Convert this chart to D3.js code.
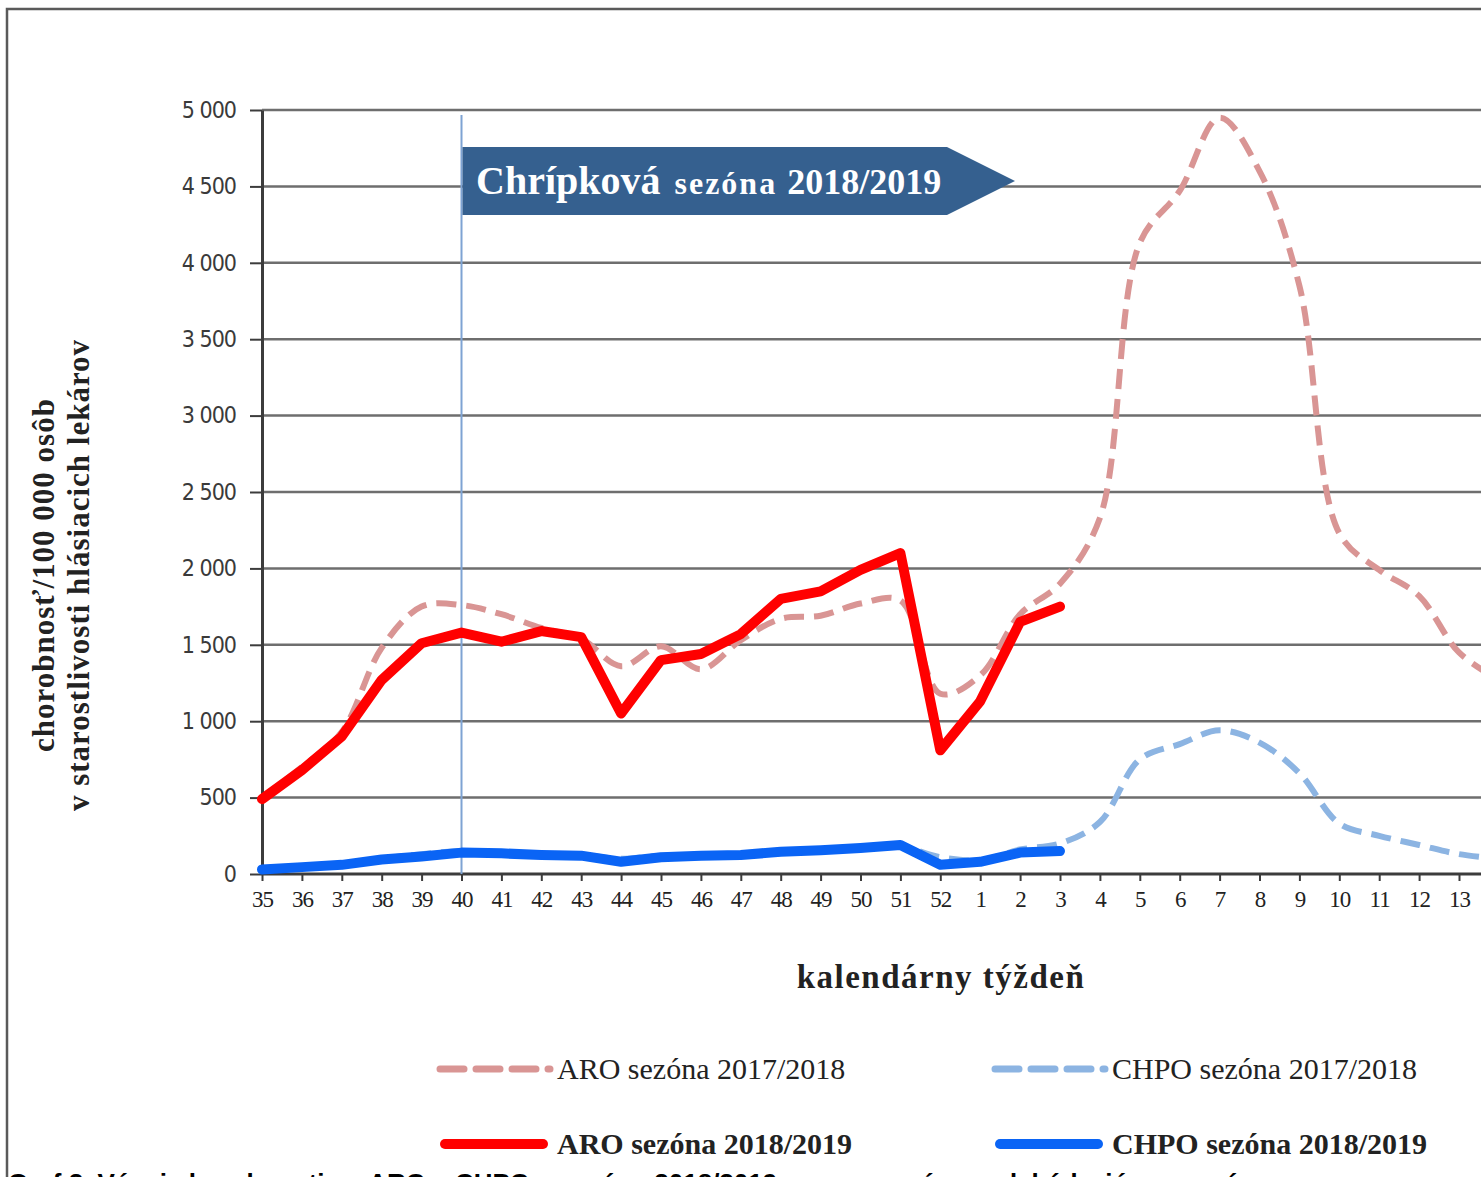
<!DOCTYPE html>
<html>
<head>
<meta charset="utf-8">
<script src="https://cdn.jsdelivr.net/npm/d3@7"></script>
<style>
    body { margin: 0; background: #fff; }
    svg { display: block; }
</style>
</head>
<body>
<svg width="1481" height="1177"></svg>
<script>
//	data (week 14 is only partly in view at the right edge)
var weeks = ["35", "36", "37", "38", "39", "40", "41", "42", "43", "44", "45", "46", "47", "48", "49", "50", "51", "52",
    "1", "2", "3", "4", "5", "6", "7", "8", "9", "10", "11", "12", "13", "14"];
var aro1718 = [500, 700, 930, 1480, 1750, 1760, 1700, 1610, 1540, 1360, 1490, 1340, 1530, 1670, 1690, 1770, 1790, 1180,
    1300, 1700, 1900, 2330, 4130, 4470, 4950, 4600, 3850, 2230, 1990, 1820, 1450, 1270];
var aro1819 = [490, 680, 900, 1270, 1510, 1580, 1520, 1590, 1550, 1050, 1400, 1440, 1570, 1800, 1850, 1990, 2100, 810,
    1130, 1650, 1750];
var chpo1718 = [30, 50, 65, 100, 130, 150, 140, 130, 125, 100, 120, 120, 130, 140, 150, 165, 180, 110,
    90, 160, 200, 340, 750, 850, 940, 860, 660, 330, 250, 190, 130, 100];
var chpo1819 = [30, 45, 60, 95, 115, 140, 135, 125, 120, 80, 110, 120, 125, 145, 155, 170, 190, 60,
    80, 140, 150];
var yTicks = [0, 500, 1000, 1500, 2000, 2500, 3000, 3500, 4000, 4500, 5000];

var legendItems = [
    {name: "ARO sezóna 2017/2018", data: aro1718, color: "#d99594", dash: "20,10", width: 6, bold: false},
    {name: "CHPO sezóna 2017/2018", data: chpo1718, color: "#8cb4e2", dash: "20,10", width: 6, bold: false},
    {name: "ARO sezóna 2018/2019", data: aro1819, color: "#ff0000", dash: null, width: 10, bold: true},
    {name: "CHPO sezóna 2018/2019", data: chpo1819, color: "#0a64f5", dash: null, width: 10, bold: true}
];

//	svg selection and sizing
var svg = d3.select("svg"),
        width = +svg.attr("width"),
        height = +svg.attr("height");

var plotLeft = 262, plotTop = 110, plotBottom = 874, step = 39.9;

var x = d3.scalePoint()
        .domain(weeks)
        .range([plotLeft, plotLeft + (weeks.length - 1) * step]);
var y = d3.scaleLinear()
        .domain([0, 5000])
        .range([plotBottom, plotTop]);

var fmt = d3.formatLocale({decimal: ",", thousands: "\u00a0", grouping: [3], currency: ["", ""]}).format(",d");

//	frame of the picture
svg.append("path")
        .attr("d", "M7," + height + "V9H" + width)
        .attr("fill", "none")
        .attr("stroke", "#5a5a5a")
        .attr("stroke-width", 2.5);

//	grid lines
svg.append("g").selectAll("line")
        .data(yTicks.slice(1))
        .enter().append("line")
        .attr("x1", plotLeft)
        .attr("x2", width)
        .attr("y1", function (d) { return y(d); })
        .attr("y2", function (d) { return y(d); })
        .attr("stroke", "#6e6e6e")
        .attr("stroke-width", 2.5);

//	y axis
var yAxis = svg.append("g")
        .attr("transform", "translate(" + plotLeft + ",0)")
        .call(d3.axisLeft(y).tickValues(yTicks).tickFormat(fmt).tickSizeInner(12).tickSizeOuter(0).tickPadding(14));
yAxis.select(".domain").attr("stroke", "#3c3c3c").attr("stroke-width", 3);
yAxis.selectAll(".tick line").attr("stroke", "#3c3c3c").attr("stroke-width", 2);
yAxis.selectAll(".tick text")
        .attr("font-family", "'DejaVu Sans Condensed', 'DejaVu Sans', sans-serif")
        .attr("font-size", 23)
        .attr("letter-spacing", "-1px")
        .attr("fill", "#3a3a3a");

//	x axis (week 14 sits past the right edge, so its label is left out)
var xAxis = svg.append("g")
        .attr("transform", "translate(0," + plotBottom + ")")
        .call(d3.axisBottom(x).tickValues(weeks.slice(0, -1)).tickSizeInner(7).tickSizeOuter(0).tickPadding(10));
xAxis.select(".domain").attr("stroke", "#3c3c3c").attr("stroke-width", 3).attr("d", "M" + plotLeft + ",0H" + width);
xAxis.selectAll(".tick line").attr("stroke", "#3c3c3c").attr("stroke-width", 2);
xAxis.selectAll(".tick text")
        .attr("font-family", "'Liberation Serif', serif")
        .attr("font-size", 23)
        .attr("letter-spacing", "-1px")
        .attr("fill", "#222");

//	season start marker (week 40)
svg.append("line")
        .attr("x1", x("40"))
        .attr("x2", x("40"))
        .attr("y1", 115)
        .attr("y2", plotBottom)
        .attr("stroke", "#7ea3d3")
        .attr("stroke-width", 2);

//	banner arrow
var bx = x("40") + 1, bTop = 147, bBot = 215, bEnd = 947, bTip = 1015;
svg.append("path")
        .attr("d", "M" + bx + "," + bTop + "H" + bEnd + "L" + bTip + "," + ((bTop + bBot) / 2) + "L" + bEnd + "," + bBot + "H" + bx + "Z")
        .attr("fill", "#35608f");
var banner = svg.append("text")
        .attr("x", 476)
        .attr("y", 194)
        .attr("fill", "#fff")
        .attr("font-family", "'Liberation Serif', serif")
        .attr("font-weight", "bold");
banner.append("tspan").attr("font-size", 40).text("Chrípková");
banner.append("tspan").attr("font-size", 32).attr("dx", 14).attr("letter-spacing", "2px").text("sezóna");
banner.append("tspan").attr("font-size", 36).attr("dx", 10).text("2018/2019");

//	series lines
var line = d3.line()
        .x(function (d, i) { return x(weeks[i]); })
        .y(function (d) { return y(d); });
var smooth = d3.line()
        .x(function (d, i) { return x(weeks[i]); })
        .y(function (d) { return y(d); })
        .curve(d3.curveCatmullRom.alpha(0.5));

legendItems.forEach(function (s) {
    svg.append("path")
            .datum(s.data)
            .attr("d", s.dash ? smooth : line)
            .attr("fill", "none")
            .attr("stroke", s.color)
            .attr("stroke-width", s.width)
            .attr("stroke-dasharray", s.dash)
            .attr("stroke-linejoin", "round")
            .attr("stroke-linecap", s.dash ? "butt" : "round");
});

//	axis titles
svg.append("text")
        .attr("x", 941)
        .attr("y", 988)
        .attr("text-anchor", "middle")
        .attr("font-family", "'Liberation Serif', serif")
        .attr("font-weight", "bold")
        .attr("font-size", 33)
        .attr("letter-spacing", "1.5px")
        .attr("fill", "#222")
        .text("kalendárny týždeň");

var yTitle = svg.append("text")
        .attr("transform", "translate(54,575) rotate(-90)")
        .attr("text-anchor", "middle")
        .attr("font-family", "'Liberation Serif', serif")
        .attr("font-weight", "bold")
        .attr("font-size", 31)
        .attr("letter-spacing", "1px")
        .attr("fill", "#222");
yTitle.append("tspan").attr("x", 0).attr("y", 0).text("chorobnosť/100 000 osôb");
yTitle.append("tspan").attr("x", 0).attr("y", 35).text("v starostlivosti hlásiacich lekárov");

//	legend
var legendPos = [[440, 1069], [995, 1069], [440, 1144], [995, 1144]];
legendItems.forEach(function (s, i) {
    var p = legendPos[i];
    svg.append("line")
            .attr("x1", p[0] + (s.dash ? 0 : 5))
            .attr("x2", p[0] + (s.dash ? 110 : 103))
            .attr("y1", p[1])
            .attr("y2", p[1])
            .attr("stroke", s.color)
            .attr("stroke-width", s.width + (s.dash ? 1 : 0))
            .attr("stroke-dasharray", s.dash ? "24,12" : null)
            .attr("stroke-linecap", "round");
    svg.append("text")
            .attr("x", p[0] + 117)
            .attr("y", p[1] + 10)
            .attr("font-family", "'Liberation Serif', serif")
            .attr("font-weight", s.bold ? "bold" : "normal")
            .attr("font-size", 30)
            .attr("fill", "#222")
            .text(s.name);
});

//	caption, cut by the bottom edge
svg.append("text")
        .attr("x", 8)
        .attr("y", 1192)
        .attr("font-family", "'Liberation Sans', sans-serif")
        .attr("font-weight", "bold")
        .attr("font-size", 26)
        .attr("fill", "#000")
        .text("Graf 2. Vývoj chorobnosti na ARO a CHPO v sezóne 2018/2019 v porovnaní s predchádzajúcou sezónou");
</script>
</body>
</html>
